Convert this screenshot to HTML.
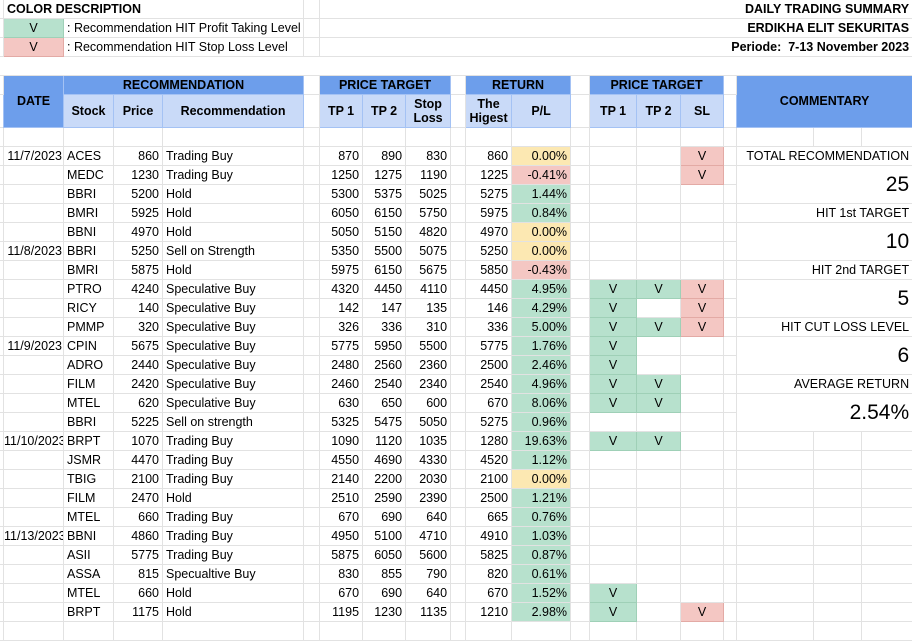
<!DOCTYPE html>
<html><head><meta charset="utf-8"><style>
html,body{margin:0;padding:0;background:#fff;width:912px;height:628px;overflow:hidden}
table{border-collapse:collapse;table-layout:fixed;width:913px;font-family:"Liberation Sans",Arial,sans-serif;font-size:12.5px;color:#000;position:absolute;left:-1px;top:-1px}
td{border:1px solid #e2e2e2;padding:0 3px;height:18px;line-height:17px;white-space:nowrap;overflow:hidden;vertical-align:bottom}
td:empty{padding:0}
.r{text-align:right}.c{text-align:center}.b{font-weight:bold}
.H{background:#6d9eeb;font-weight:bold;text-align:center;vertical-align:middle;border-color:#a4c2f4}
.L{background:#c9daf8;font-weight:bold;text-align:center;vertical-align:middle;border-color:#a4c2f4;line-height:14px}
.g{background:#b7e1cd;text-align:center;border-color:#9fd0b7}.rd{background:#f4c7c3;text-align:center;border-color:#e3aaa5}.y{background:#fce8b2}
.gr{background:#b7e1cd}.rr{background:#f4c7c3}
.big{font-size:21px;text-align:right;vertical-align:middle}
.d{padding:0 1px 0 0;text-overflow:clip}
</style></head><body>
<table>
<colgroup><col style="width:4px"><col style="width:60px"><col style="width:50px"><col style="width:49px"><col style="width:141px"><col style="width:16px"><col style="width:43px"><col style="width:43px"><col style="width:45px"><col style="width:15px"><col style="width:46px"><col style="width:59px"><col style="width:19px"><col style="width:47px"><col style="width:44px"><col style="width:43px"><col style="width:13px"><col style="width:77px"><col style="width:48px"><col style="width:51px"></colgroup>
<tr><td></td><td colspan="4" class="b">COLOR DESCRIPTION</td><td></td><td colspan="14" class="r b">DAILY TRADING SUMMARY</td></tr>
<tr><td></td><td class="g">V</td><td colspan="3">: Recommendation HIT Profit Taking Level</td><td></td><td colspan="14" class="r b">ERDIKHA ELIT SEKURITAS</td></tr>
<tr><td></td><td class="rd">V</td><td colspan="3">: Recommendation HIT Stop Loss Level</td><td></td><td colspan="14" class="r b">Periode:&nbsp; 7-13 November 2023</td></tr>
<tr><td colspan="20" style="border-left-color:#fff;border-right-color:#fff"></td></tr>
<tr><td></td><td rowspan="2" class="H">DATE</td><td colspan="3" class="H">RECOMMENDATION</td><td></td><td colspan="3" class="H">PRICE TARGET</td><td></td><td colspan="2" class="H">RETURN</td><td></td><td colspan="3" class="H">PRICE TARGET</td><td></td><td colspan="3" rowspan="2" class="H">COMMENTARY</td></tr>
<tr style="height:33px"><td></td><td class="L">Stock</td><td class="L">Price</td><td class="L">Recommendation</td><td></td><td class="L">TP 1</td><td class="L">TP 2</td><td class="L">Stop<br>Loss</td><td></td><td class="L">The<br>Higest</td><td class="L">P/L</td><td></td><td class="L">TP 1</td><td class="L">TP 2</td><td class="L">SL</td><td></td></tr>
<tr><td></td><td></td><td></td><td></td><td></td><td></td><td></td><td></td><td></td><td></td><td></td><td></td><td></td><td></td><td></td><td></td><td></td><td></td><td></td><td></td></tr>
<tr><td></td><td class="r d">11/7/2023</td><td>ACES</td><td class="r">860</td><td>Trading Buy</td><td></td><td class="r">870</td><td class="r">890</td><td class="r">830</td><td></td><td class="r">860</td><td class="r y">0.00%</td><td></td><td></td><td></td><td class="rd">V</td><td></td><td colspan="3" class="r">TOTAL RECOMMENDATION</td></tr>
<tr><td></td><td></td><td>MEDC</td><td class="r">1230</td><td>Trading Buy</td><td></td><td class="r">1250</td><td class="r">1275</td><td class="r">1190</td><td></td><td class="r">1225</td><td class="r rr">-0.41%</td><td></td><td></td><td></td><td class="rd">V</td><td></td><td colspan="3" rowspan="2" class="big">25</td></tr>
<tr><td></td><td></td><td>BBRI</td><td class="r">5200</td><td>Hold</td><td></td><td class="r">5300</td><td class="r">5375</td><td class="r">5025</td><td></td><td class="r">5275</td><td class="r gr">1.44%</td><td></td><td></td><td></td><td></td><td></td></tr>
<tr><td></td><td></td><td>BMRI</td><td class="r">5925</td><td>Hold</td><td></td><td class="r">6050</td><td class="r">6150</td><td class="r">5750</td><td></td><td class="r">5975</td><td class="r gr">0.84%</td><td></td><td></td><td></td><td></td><td></td><td colspan="3" class="r">HIT 1st TARGET</td></tr>
<tr><td></td><td></td><td>BBNI</td><td class="r">4970</td><td>Hold</td><td></td><td class="r">5050</td><td class="r">5150</td><td class="r">4820</td><td></td><td class="r">4970</td><td class="r y">0.00%</td><td></td><td></td><td></td><td></td><td></td><td colspan="3" rowspan="2" class="big">10</td></tr>
<tr><td></td><td class="r d">11/8/2023</td><td>BBRI</td><td class="r">5250</td><td>Sell on Strength</td><td></td><td class="r">5350</td><td class="r">5500</td><td class="r">5075</td><td></td><td class="r">5250</td><td class="r y">0.00%</td><td></td><td></td><td></td><td></td><td></td></tr>
<tr><td></td><td></td><td>BMRI</td><td class="r">5875</td><td>Hold</td><td></td><td class="r">5975</td><td class="r">6150</td><td class="r">5675</td><td></td><td class="r">5850</td><td class="r rr">-0.43%</td><td></td><td></td><td></td><td></td><td></td><td colspan="3" class="r">HIT 2nd TARGET</td></tr>
<tr><td></td><td></td><td>PTRO</td><td class="r">4240</td><td>Speculative Buy</td><td></td><td class="r">4320</td><td class="r">4450</td><td class="r">4110</td><td></td><td class="r">4450</td><td class="r gr">4.95%</td><td></td><td class="g">V</td><td class="g">V</td><td class="rd">V</td><td></td><td colspan="3" rowspan="2" class="big">5</td></tr>
<tr><td></td><td></td><td>RICY</td><td class="r">140</td><td>Speculative Buy</td><td></td><td class="r">142</td><td class="r">147</td><td class="r">135</td><td></td><td class="r">146</td><td class="r gr">4.29%</td><td></td><td class="g">V</td><td></td><td class="rd">V</td><td></td></tr>
<tr><td></td><td></td><td>PMMP</td><td class="r">320</td><td>Speculative Buy</td><td></td><td class="r">326</td><td class="r">336</td><td class="r">310</td><td></td><td class="r">336</td><td class="r gr">5.00%</td><td></td><td class="g">V</td><td class="g">V</td><td class="rd">V</td><td></td><td colspan="3" class="r">HIT CUT LOSS LEVEL</td></tr>
<tr><td></td><td class="r d">11/9/2023</td><td>CPIN</td><td class="r">5675</td><td>Speculative Buy</td><td></td><td class="r">5775</td><td class="r">5950</td><td class="r">5500</td><td></td><td class="r">5775</td><td class="r gr">1.76%</td><td></td><td class="g">V</td><td></td><td></td><td></td><td colspan="3" rowspan="2" class="big">6</td></tr>
<tr><td></td><td></td><td>ADRO</td><td class="r">2440</td><td>Speculative Buy</td><td></td><td class="r">2480</td><td class="r">2560</td><td class="r">2360</td><td></td><td class="r">2500</td><td class="r gr">2.46%</td><td></td><td class="g">V</td><td></td><td></td><td></td></tr>
<tr><td></td><td></td><td>FILM</td><td class="r">2420</td><td>Speculative Buy</td><td></td><td class="r">2460</td><td class="r">2540</td><td class="r">2340</td><td></td><td class="r">2540</td><td class="r gr">4.96%</td><td></td><td class="g">V</td><td class="g">V</td><td></td><td></td><td colspan="3" class="r">AVERAGE RETURN</td></tr>
<tr><td></td><td></td><td>MTEL</td><td class="r">620</td><td>Speculative Buy</td><td></td><td class="r">630</td><td class="r">650</td><td class="r">600</td><td></td><td class="r">670</td><td class="r gr">8.06%</td><td></td><td class="g">V</td><td class="g">V</td><td></td><td></td><td colspan="3" rowspan="2" class="big">2.54%</td></tr>
<tr><td></td><td></td><td>BBRI</td><td class="r">5225</td><td>Sell on strength</td><td></td><td class="r">5325</td><td class="r">5475</td><td class="r">5050</td><td></td><td class="r">5275</td><td class="r gr">0.96%</td><td></td><td></td><td></td><td></td><td></td></tr>
<tr><td></td><td class="d">11/10/2023</td><td>BRPT</td><td class="r">1070</td><td>Trading Buy</td><td></td><td class="r">1090</td><td class="r">1120</td><td class="r">1035</td><td></td><td class="r">1280</td><td class="r gr">19.63%</td><td></td><td class="g">V</td><td class="g">V</td><td></td><td></td><td></td><td></td><td></td></tr>
<tr><td></td><td></td><td>JSMR</td><td class="r">4470</td><td>Trading Buy</td><td></td><td class="r">4550</td><td class="r">4690</td><td class="r">4330</td><td></td><td class="r">4520</td><td class="r gr">1.12%</td><td></td><td></td><td></td><td></td><td></td><td></td><td></td><td></td></tr>
<tr><td></td><td></td><td>TBIG</td><td class="r">2100</td><td>Trading Buy</td><td></td><td class="r">2140</td><td class="r">2200</td><td class="r">2030</td><td></td><td class="r">2100</td><td class="r y">0.00%</td><td></td><td></td><td></td><td></td><td></td><td></td><td></td><td></td></tr>
<tr><td></td><td></td><td>FILM</td><td class="r">2470</td><td>Hold</td><td></td><td class="r">2510</td><td class="r">2590</td><td class="r">2390</td><td></td><td class="r">2500</td><td class="r gr">1.21%</td><td></td><td></td><td></td><td></td><td></td><td></td><td></td><td></td></tr>
<tr><td></td><td></td><td>MTEL</td><td class="r">660</td><td>Trading Buy</td><td></td><td class="r">670</td><td class="r">690</td><td class="r">640</td><td></td><td class="r">665</td><td class="r gr">0.76%</td><td></td><td></td><td></td><td></td><td></td><td></td><td></td><td></td></tr>
<tr><td></td><td class="d">11/13/2023</td><td>BBNI</td><td class="r">4860</td><td>Trading Buy</td><td></td><td class="r">4950</td><td class="r">5100</td><td class="r">4710</td><td></td><td class="r">4910</td><td class="r gr">1.03%</td><td></td><td></td><td></td><td></td><td></td><td></td><td></td><td></td></tr>
<tr><td></td><td></td><td>ASII</td><td class="r">5775</td><td>Trading Buy</td><td></td><td class="r">5875</td><td class="r">6050</td><td class="r">5600</td><td></td><td class="r">5825</td><td class="r gr">0.87%</td><td></td><td></td><td></td><td></td><td></td><td></td><td></td><td></td></tr>
<tr><td></td><td></td><td>ASSA</td><td class="r">815</td><td>Specualtive Buy</td><td></td><td class="r">830</td><td class="r">855</td><td class="r">790</td><td></td><td class="r">820</td><td class="r gr">0.61%</td><td></td><td></td><td></td><td></td><td></td><td></td><td></td><td></td></tr>
<tr><td></td><td></td><td>MTEL</td><td class="r">660</td><td>Hold</td><td></td><td class="r">670</td><td class="r">690</td><td class="r">640</td><td></td><td class="r">670</td><td class="r gr">1.52%</td><td></td><td class="g">V</td><td></td><td></td><td></td><td></td><td></td><td></td></tr>
<tr><td></td><td></td><td>BRPT</td><td class="r">1175</td><td>Hold</td><td></td><td class="r">1195</td><td class="r">1230</td><td class="r">1135</td><td></td><td class="r">1210</td><td class="r gr">2.98%</td><td></td><td class="g">V</td><td></td><td class="rd">V</td><td></td><td></td><td></td><td></td></tr>
<tr><td></td><td></td><td></td><td></td><td></td><td></td><td></td><td></td><td></td><td></td><td></td><td></td><td></td><td></td><td></td><td></td><td></td><td></td><td></td><td></td></tr>
</table>
</body></html>
